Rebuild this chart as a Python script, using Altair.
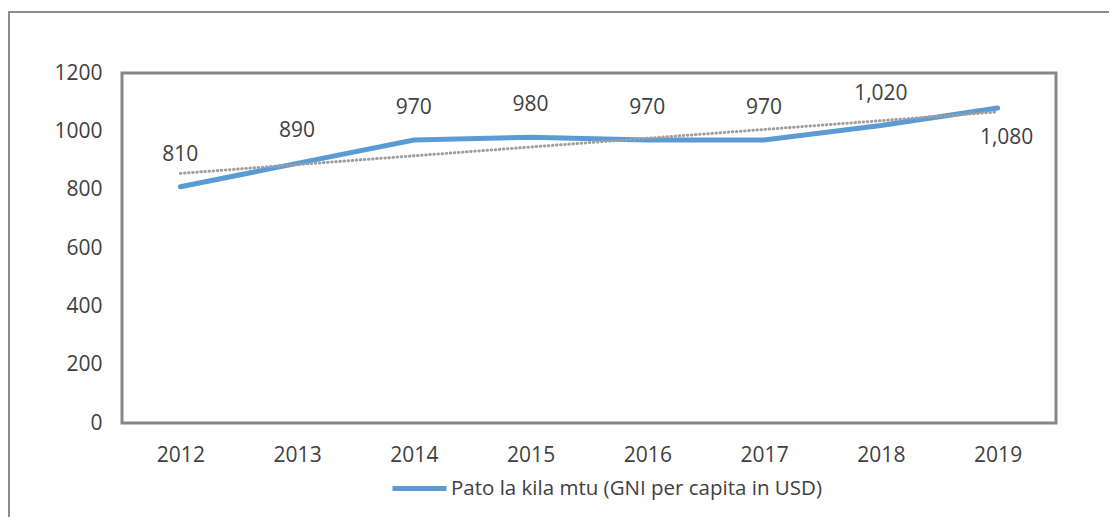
import altair as alt
import pandas as pd

years = [2012, 2013, 2014, 2015, 2016, 2017, 2018, 2019]
values = [810, 890, 970, 980, 970, 970, 1020, 1080]
series_name = "Pato la kila mtu (GNI per capita in USD)"
y_ticks = [0, 200, 400, 600, 800, 1000, 1200]

df = pd.DataFrame({"year": years, "value": values, "series": [series_name] * len(years)})

FONT = "Open Sans"
TXT = "#404040"
FS = 21

x_enc = alt.X(
    "year:Q",
    scale=alt.Scale(domain=[2011.5, 2019.5], nice=False, zero=False),
    axis=alt.Axis(values=years, format="d", title=None, grid=False, domain=False,
                  ticks=False, labelPadding=21, labelFont=FONT, labelFontSize=FS,
                  labelColor=TXT),
)
y_enc = alt.Y(
    "value:Q",
    scale=alt.Scale(domain=[0, 1200], nice=False),
    axis=alt.Axis(values=y_ticks, format="d", title=None, grid=False, domain=False,
                  ticks=False, labelPadding=20, labelFont=FONT, labelFontSize=FS,
                  labelColor=TXT),
)

base = alt.Chart(df).encode(x=x_enc, y=y_enc)

line = base.mark_line(strokeWidth=5, strokeCap="round").encode(
    color=alt.Color(
        "series:N",
        scale=alt.Scale(range=["#5B9BD5"]),
        legend=alt.Legend(
            title=None, orient="none", legendX=268, legendY=386,
            symbolType="stroke", symbolSize=2916, symbolStrokeWidth=5,
            labelFont=FONT, labelFontSize=20.5, labelColor=TXT, labelOffset=2,
            labelLimit=0,
        ),
    )
)

trend = base.transform_regression("year", "value").mark_line(
    color="#9E9E9E", strokeWidth=3, strokeDash=[0.5, 3.6], strokeCap="round"
)

labels = base.mark_text(dy=-32, font=FONT, fontSize=FS, color=TXT).encode(
    text=alt.Text("value:Q", format=",")
).transform_filter("datum.year < 2019")

last_label = base.mark_text(dy=30, dx=9, font=FONT, fontSize=FS, color=TXT).encode(
    text=alt.Text("value:Q", format=",")
).transform_filter("datum.year == 2019")

frame = alt.Chart(pd.DataFrame({"a": [0]})).mark_rect(
    fill="transparent", stroke="#8C8C8C", strokeWidth=2
).encode(x=alt.value(-113), x2=alt.value(1300), y=alt.value(-61), y2=alt.value(700))

chart = alt.layer(frame, line, trend, labels, last_label).properties(
    width=934, height=350,
    autosize=alt.AutoSizeParams(type="none"),
    padding={"left": 114, "top": 65, "right": 53, "bottom": 94},
).configure_view(stroke="#878787", strokeWidth=3)

chart.save("out.html", embed_options={"renderer": "svg", "actions": False})
